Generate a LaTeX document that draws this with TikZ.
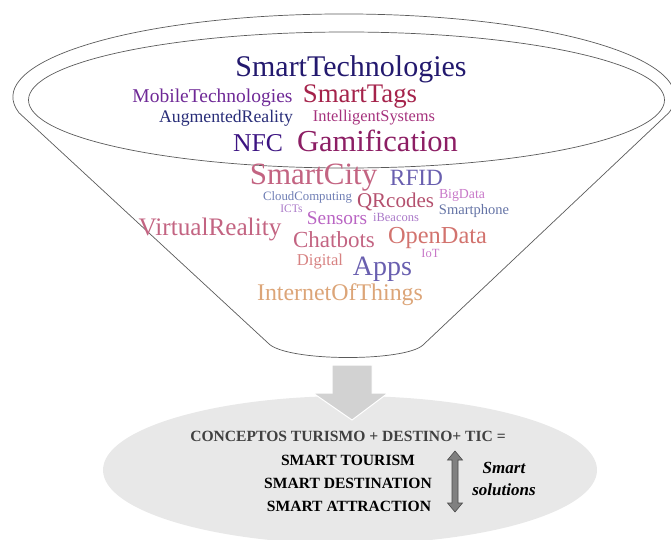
\documentclass[tikz,border=0pt]{standalone}
\usepackage{fontspec}
\setmainfont{Liberation Serif}
\usetikzlibrary{positioning}

% word cloud colours
\definecolor{cNavy}{RGB}{35,25,110}
\definecolor{cPurple}{RGB}{110,40,150}
\definecolor{cCrimson}{RGB}{165,35,75}
\definecolor{cBlue}{RGB}{40,45,120}
\definecolor{cMagenta}{RGB}{165,50,125}
\definecolor{cIndigo}{RGB}{60,20,130}
\definecolor{cPlum}{RGB}{140,30,100}
\definecolor{cRose}{RGB}{195,100,130}
\definecolor{cSlate}{RGB}{105,95,175}
\definecolor{cSky}{RGB}{110,125,180}
\definecolor{cLilac}{RGB}{170,120,200}
\definecolor{cBerry}{RGB}{180,80,110}
\definecolor{cOrchid}{RGB}{200,120,200}
\definecolor{cSteel}{RGB}{100,115,165}
\definecolor{cViolet}{RGB}{185,100,195}
\definecolor{cSalmon}{RGB}{210,115,110}
\definecolor{cPink}{RGB}{215,130,130}
\definecolor{cTan}{RGB}{220,165,120}
\definecolor{funnelLine}{RGB}{90,90,90}
\definecolor{blockGray}{RGB}{210,210,210}
\definecolor{ovalGray}{RGB}{232,232,232}

\tikzset{
  tag/.style={font=\fontsize{#1}{#1}\selectfont},
  caps/.style={font=\fontsize{15.6}{18}\selectfont\bfseries},
}

\begin{document}
\begin{tikzpicture}[x=1pt,y=-1pt]
  \useasboundingbox (0,0) rectangle (671,540);
  % funnel and its rim
  \begin{scope}[draw=funnelLine,line width=0.7pt]
    \draw (19,112.8) arc[start angle=169,end angle=371,x radius=331,y radius=83]
      -- (423,345) .. controls (405,362) and (285,362) .. (268,343) -- cycle;
    \draw (346.5,100) ellipse[x radius=318,y radius=68];
  \end{scope}
  % arrow and result oval
  \fill[ovalGray] (350,470) ellipse[x radius=247,y radius=74];
  \filldraw[fill=blockGray,draw=white,line width=1pt]
    (332,365) -- (372,365) -- (372,393) -- (388,393) -- (352,420)
    -- (313,393) -- (332,393) -- cycle;
  \begin{scope}[every node/.style={anchor=base,inner sep=0pt}]
    \node[tag=30,text=cNavy] (wSmartTech) at (351,77) {SmartTechnologies};
    \node[tag=19.5,text=cPurple] (wMobile) at (212.5,103) {MobileTechnologies};
    \node[tag=26.8,text=cCrimson] (wTags) at (360,103) {SmartTags};
    \node[tag=17.7,text=cBlue] (wAugmented) at (226,123) {AugmentedReality};
    \node[tag=16.4,text=cMagenta] (wIntelligent) at (374,122) {IntelligentSystems};
    \node[tag=25.7,text=cIndigo] (wNFC) at (258,152) {NFC};
    \node[tag=30.5,text=cPlum] (wGamification) at (377.5,152) {Gamification};
    \node[tag=31,text=cRose] (wCity) at (313.5,184.5) {SmartCity};
    \node[tag=23.3,text=cSlate] (wRFID) at (416.5,185) {RFID};
    \node[tag=12.8,text=cSky] (wCloud) at (307.5,200) {CloudComputing};
    \node[tag=11.5,text=cLilac] (wICT) at (291.5,212.5) {ICTs};
    \node[tag=21,text=cBerry] (wQR) at (395.5,207) {QRcodes};
    \node[tag=13.8,text=cOrchid] (wBigData) at (462,198) {BigData};
    \node[tag=14.5,text=cSteel] (wPhone) at (474,214) {Smartphone};
    \node[tag=19.3,text=cViolet] (wSensors) at (337,224.5) {Sensors};
    \node[tag=12.5,text=cLilac] (wBeacons) at (396,221.5) {iBeacons};
    \node[tag=25.2,text=cRose] (wVirtual) at (210,235) {VirtualReality};
    \node[tag=23,text=cRose] (wChatbots) at (334,247.5) {Chatbots};
    \node[tag=24.4,text=cSalmon] (wOpenData) at (437.5,243) {OpenData};
    \node[tag=12.5,text=cOrchid] (wIoT) at (430.5,257.5) {IoT};
    \node[tag=16.6,text=cPink] (wDigital) at (320,265.5) {Digital};
    \node[tag=28,text=cSlate] (wApps) at (382.5,275) {Apps};
    \node[tag=23.9,text=cTan] (wIoThings) at (340,300) {InternetOfThings};
  \end{scope}
  % text inside the oval
  \begin{scope}[every node/.style={anchor=base,inner sep=0pt}]
    \node[caps,text=black!75] (concepts) at (348,441) {CONCEPTOS TURISMO + DESTINO+ TIC =};
    \node[caps] (tourism) at (348,465) {SMART TOURISM};
    \node[caps] (destination) at (348,488) {SMART DESTINATION};
    \node[caps] (attraction) at (349,511) {SMART ATTRACTION};
    \node[font=\fontsize{17}{20}\selectfont\bfseries\itshape] (smart) at (504,473) {Smart};
    \node[font=\fontsize{17}{20}\selectfont\bfseries\itshape] (solutions) at (504,495) {solutions};
  \end{scope}
  \filldraw[fill=black!50,draw=black!70,line width=0.6pt]
    (455,451) -- (462.5,460) -- (458,460) -- (458,503) -- (462.5,503) -- (455,512)
    -- (447.5,503) -- (452,503) -- (452,460) -- (447.5,460) -- cycle;
\end{tikzpicture}
\end{document}
